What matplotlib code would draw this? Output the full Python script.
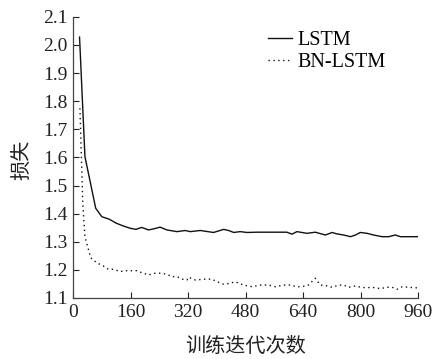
import matplotlib
matplotlib.use('Agg')
import matplotlib.pyplot as plt

# training loss curves
it_lstm = [18, 33, 63, 80, 101, 120, 140, 159, 175, 191, 210, 228, 242, 261, 289, 312,
           326, 354, 391, 419, 433, 447, 465, 484, 512, 549, 577, 595, 609, 623, 632,
           651, 674, 702, 721, 734, 753, 772, 786, 799, 818, 836, 860, 878, 897, 911, 960]
loss_lstm = [2.028, 1.603, 1.419, 1.389, 1.38, 1.366, 1.356, 1.348, 1.344, 1.351, 1.342,
             1.347, 1.352, 1.342, 1.336, 1.34, 1.336, 1.34, 1.333, 1.344, 1.34, 1.333,
             1.336, 1.333, 1.334, 1.334, 1.334, 1.334, 1.327, 1.336, 1.334, 1.33, 1.334,
             1.324, 1.333, 1.328, 1.324, 1.318, 1.324, 1.333, 1.33, 1.324, 1.318, 1.318,
             1.324, 1.318, 1.318]

it_bn = [19, 27, 33, 49, 66, 84, 98, 112, 131, 145, 159, 177, 191, 210, 228, 247, 261,
         275, 289, 303, 317, 321, 340, 368, 386, 400, 419, 437, 451, 474, 498, 521, 544,
         563, 586, 604, 623, 637, 655, 674, 688, 707, 721, 739, 753, 767, 786, 804, 823,
         841, 855, 873, 888, 902, 916, 934, 957]
loss_bn = [1.775, 1.437, 1.318, 1.243, 1.225, 1.214, 1.202, 1.202, 1.194, 1.197, 1.197,
           1.197, 1.19, 1.182, 1.188, 1.188, 1.184, 1.176, 1.176, 1.167, 1.164, 1.174,
           1.164, 1.167, 1.167, 1.158, 1.149, 1.152, 1.158, 1.146, 1.14, 1.146, 1.146,
           1.14, 1.146, 1.146, 1.14, 1.14, 1.146, 1.17, 1.146, 1.143, 1.138, 1.146, 1.146,
           1.138, 1.143, 1.137, 1.137, 1.137, 1.133, 1.138, 1.138, 1.131, 1.14, 1.138, 1.136]

xticks = [0, 160, 320, 480, 640, 800, 960]
yticks = [1.1, 1.2, 1.3, 1.4, 1.5, 1.6, 1.7, 1.8, 1.9, 2.0, 2.1]

plt.rcParams['font.family'] = ['Liberation Serif', 'Noto Sans CJK SC']

fig = plt.figure(figsize=(4.35, 3.59), dpi=100)
ax = fig.add_axes([0.168, 0.170, 0.793, 0.783])

ax.plot(it_lstm, loss_lstm, color='#111111', lw=1.0, label='LSTM')
ax.plot(it_bn, loss_bn, color='#111111', lw=1.0, linestyle=(0, (1, 2.5)), label='BN-LSTM')

ax.set_xlim(0, 960)
ax.set_ylim(1.1, 2.1)
ax.set_xticks(xticks)
ax.set_yticks(yticks)
ax.set_yticklabels(['%.1f' % v for v in yticks])
ax.tick_params(direction='in', length=4, width=0.8, labelsize=14, pad=4, colors='#222222')
for s in ['top', 'right']:
    ax.spines[s].set_visible(False)
for s in ['left', 'bottom']:
    ax.spines[s].set_linewidth(0.9)
    ax.spines[s].set_color('#444444')

fig.text(246 / 435, 1 - 346 / 359, '训练迭代次数', family='Noto Sans CJK SC', fontsize=14.5,
         ha='center', va='center', color='#222222')
fig.text(22 / 435, 1 - 160 / 359, '损失', family='Noto Sans CJK SC', fontsize=14.5,
         ha='center', va='center', rotation=90, color='#222222')

ax.legend(loc='upper left', bbox_to_anchor=(0.565, 0.95), frameon=False, fontsize=14.5,
          handlelength=1.2, handletextpad=0.25, labelspacing=0.15, borderaxespad=0,
          borderpad=0)

fig.savefig('out.png', dpi=100)
